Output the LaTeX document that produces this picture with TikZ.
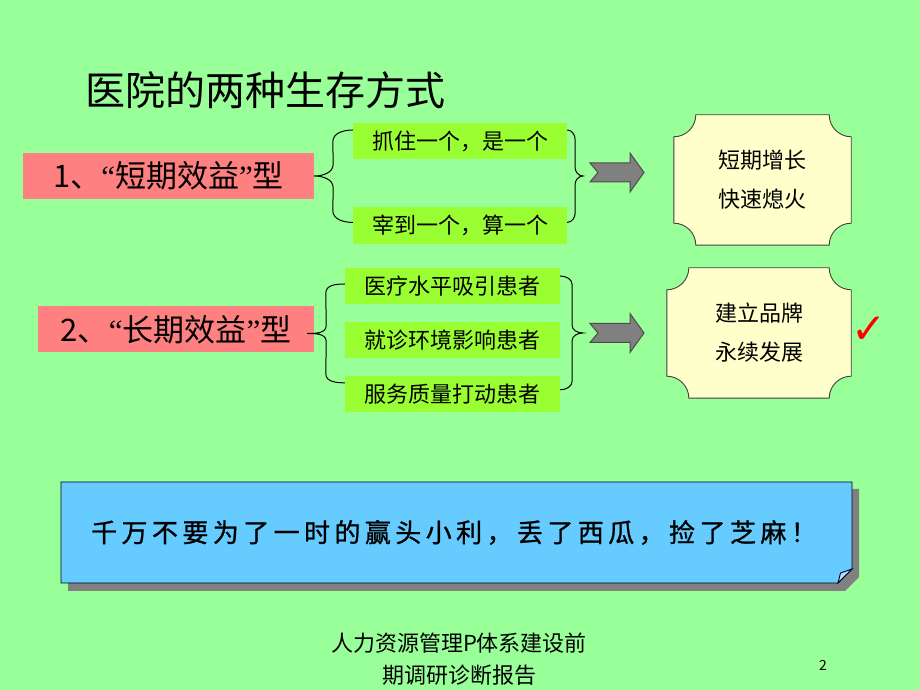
\documentclass[tikz,border=0pt]{standalone}
\usepackage{fontspec}
\usepackage{tikz}
\usetikzlibrary{calc, positioning}
\newfontfamily\cjk{Noto Sans CJK SC}
\newfontfamily\cjkwide{Noto Sans CJK SC}[LetterSpace=17, FakeBold=1]
\newfontfamily\latin{Liberation Serif}
\newfontfamily\symb{DejaVu Sans}
\definecolor{page-green}{RGB}{153,255,153}
\definecolor{type-red}{RGB}{255,128,128}
\definecolor{way-green}{RGB}{153,255,51}
\definecolor{plaque-yellow}{RGB}{255,255,204}
\definecolor{note-blue}{RGB}{102,204,255}
\definecolor{note-fold}{RGB}{170,225,255}
\colorlet{shadow-grey}{black!50}
\pgfdeclarelayer{background}
\pgfsetlayers{background,main}
\tikzset{%
  every node/.style={font=\cjk},
    brace/.style={%
        draw=black,
        line width=1pt,
    },
    typebox/.style={%
        rectangle,
        fill=type-red,
        inner sep=0pt,
        minimum height=46pt,
        font=\cjk\fontsize{31}{31}\selectfont,
    },
    waybox/.style={%
        rectangle,
        fill=way-green,
        inner sep=0pt,
        minimum width=214pt,
        minimum height=36.5pt,
        font=\cjk\fontsize{22}{22}\selectfont,
    },
    result/.style={%
        inner sep=0pt,
        align=center,
        font=\cjk\fontsize{22}{39}\selectfont,
    },
    plaque/.style={%
        fill=plaque-yellow,
        draw=black!75,
        line width=0.9pt,
    },
    bigarrow/.style={%
        fill=shadow-grey,
        draw=black!70,
        line width=1pt,
        line join=miter,
    },
    notebox/.style={%
        inner sep=0pt,
        minimum width=791pt,
        minimum height=101pt,
        font=\cjkwide\fontsize{26}{26}\selectfont,
    },
    notebody/.style={%
        fill=note-blue,
        draw=black!70!blue!40!black,
        line width=0.9pt,
    },
}

\begin{document}
\begin{tikzpicture}[x=1pt, y=1pt]
  \useasboundingbox (0,0) rectangle (920,690);
  \begin{pgfonlayer}{background}
    \fill[page-green] (0,0) rectangle (920,690);
  \end{pgfonlayer}

  \node [font=\cjk\fontsize{40}{40}\selectfont] at (265,600) (title) {医院的两种生存方式};

  % short-term type
  \node [typebox, minimum width=291pt] at (168.5,514) (type1) {1、{\latin “}短期效益{\latin ”}型};
  \node [waybox] at (460,549) (w1a) {抓住一个，是一个};
  \node [waybox, below=47.5pt of w1a] (w1b) {宰到一个，算一个};

  % long-term type
  \node [typebox, minimum width=276pt] at (176,360.5) (type2) {2、{\latin “}长期效益{\latin ”}型};
  \node [waybox, minimum width=215pt] at (452.5,404) (w2a) {医疗水平吸引患者};
  \node [waybox, minimum width=215pt, below=17pt of w2a] (w2b) {就诊环境影响患者};
  \node [waybox, minimum width=215pt, below=17pt of w2b] (w2c) {服务质量打动患者};

  % braces
  \coordinate (b1top) at ([yshift=11pt]w1a.west);
  \coordinate (b1bot) at ([yshift=3pt]w1b.west);
  \draw[brace] (b1top) to[out=180,in=90] ++(-20,-12) -- ($(type1.east)+(19,12)$)
    to[out=-90,in=0] (type1.east) to[out=0,in=90] ++(19,-12)
    -- ($(b1bot)+(-20,12)$) to[out=-90,in=180] (b1bot);

  \coordinate (c1top) at ([yshift=11pt]w1a.east);
  \coordinate (c1bot) at ([yshift=3pt]w1b.east);
  \coordinate (t1) at (583,514);
  \draw[brace] (c1top) to[out=0,in=90] ++(8,-10) -- ($(t1)+(-8,9)$)
    to[out=-90,in=180] (t1) to[out=180,in=90] ++(-8,-9)
    -- ($(c1bot)+(8,10)$) to[out=-90,in=0] (c1bot);

  \coordinate (b2top) at ([yshift=2pt]w2a.west);
  \coordinate (b2bot) at ([yshift=11pt]w2c.west);
  \coordinate (s2) at ([xshift=-7pt,yshift=-4pt]type2.east);
  \draw[brace] (b2top) to[out=180,in=90] ++(-19,-9) -- ($(s2)+(19,8)$)
    to[out=-90,in=0] (s2) to[out=0,in=90] ++(19,-8)
    -- ($(b2bot)+(-19,9)$) to[out=-90,in=180] (b2bot);

  \coordinate (c2top) at ([yshift=10pt]w2a.east);
  \coordinate (c2bot) at ([yshift=4pt]w2c.east);
  \coordinate (t2) at (583,357);
  \draw[brace] (c2top) to[out=0,in=90] ++(12,-9) -- ($(t2)+(-11,8)$)
    to[out=-90,in=180] (t2) to[out=180,in=90] ++(-11,-8)
    -- ($(c2bot)+(12,9)$) to[out=-90,in=0] (c2bot);

  % fat arrows
  \coordinate (a1) at ($(t1)+(7,3.5)$);
  \coordinate (a2) at ($(t2)+(7,0)$);
  \foreach \a in {a1, a2} {
    \draw[bigarrow] (\a) ++(0,9.5) -- ++(40,0) -- ++(0,10) -- ++(14,-19.5)
      -- ++(-14,-19.5) -- ++(0,10) -- ++(-40,0) -- ++(8,9.5) -- cycle;
  }

  % results
  \node [result, minimum width=177pt, minimum height=130pt] at (762.5,510) (r1) {短期增长\\快速熄火};
  \node [result, minimum width=184pt, minimum height=130pt] at (759,357) (r2) {建立品牌\\永续发展};
  \node [text=red, font=\symb\bfseries\fontsize{42}{42}\selectfont] at (869,360) (tick) {✓};

  % note
  \node [notebox] at (454,157.5) (note) {千万不要为了一时的赢头小利，丢了西瓜，捡了芝麻！};

  \node [align=center, font=\cjk\fontsize{22}{32}\selectfont] at (459,31) (foot) {人力资源管理P体系建设前\\期调研诊断报告};
  \node [font=\cjk\fontsize{14}{14}\selectfont] at (823,25) (pageno) {2};

  \begin{pgfonlayer}{background}
    \foreach \r in {r1, r2} {
      \draw[plaque] let \p1=(\r.south west), \p2=(\r.north east) in
        (\x1+22,\y1) -- (\x2-22,\y1) arc[start angle=180, end angle=90, radius=22]
        -- (\x2,\y2-22) arc[start angle=270, end angle=180, radius=22]
        -- (\x1+22,\y2) arc[start angle=0, end angle=-90, radius=22]
        -- (\x1,\y1+22) arc[start angle=90, end angle=0, radius=22] -- cycle;
    }
    \coordinate (nsw) at (61,107);
    \coordinate (nne) at (852,208);
    \fill[shadow-grey] ($(nsw)+(7,-8)$) -- ($(nne|-nsw)+(-7,-8)$)
      -- ($(nne|-nsw)+(7,6)$) -- ($(nne)+(7,-7)$)
      -- ($(nsw|-nne)+(7,-7)$) -- cycle;
    \draw[notebody] (nsw) -- ($(nne|-nsw)+(-14,0)$)
      -- ($(nne|-nsw)+(0,14)$) -- (nne) -- (nsw|-nne) -- cycle;
    \draw[notebody, fill=note-fold] ($(nne|-nsw)+(-14,0)$) -- ($(nne|-nsw)+(-11.5,10)$)
      -- ($(nne|-nsw)+(0,14)$) -- cycle;
  \end{pgfonlayer}
\end{tikzpicture}
\end{document}
